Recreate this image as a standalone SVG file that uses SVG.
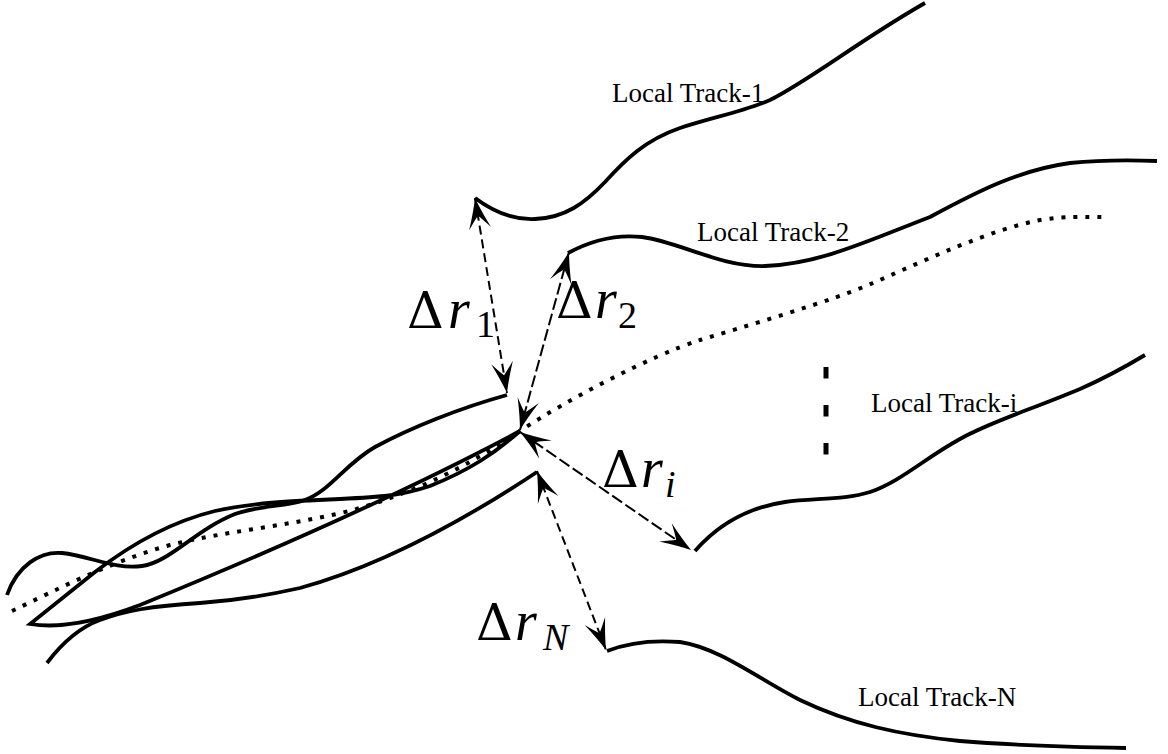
<svg xmlns="http://www.w3.org/2000/svg" width="1168" height="754" viewBox="0 0 1168 754">
  <style>
    .trk { fill: none; stroke: #000; stroke-width: 3.8; stroke-linecap: butt; stroke-linejoin: miter; }
    .glob { fill: none; stroke: #000; stroke-width: 4; stroke-dasharray: 4 8; }
    .dist { fill: none; stroke: #000; stroke-width: 2; marker-start: url(#stealth); marker-end: url(#stealth); }
    .d1 { stroke-dasharray: 9 5; }
    .d2 { stroke-dasharray: 12 4; }
    .lbl { font-family: "Liberation Serif", "Times New Roman", serif; font-size: 27px; fill: #000; }
    .math { font-family: "Liberation Serif", "Times New Roman", serif; font-size: 56px; fill: #000; }
    .delta { font-family: "DejaVu Serif", "Liberation Serif", serif; font-size: 51px; }
    .it { font-style: italic; }
    .sub { font-size: 38px; }
  </style>
  <defs>
    <marker id="stealth" markerUnits="userSpaceOnUse" viewBox="-33 -13 35 26" refX="0" refY="0" markerWidth="35" markerHeight="26" orient="auto-start-reverse">
      <path d="M0,0 Q-14,-4 -31,-11 Q-21,-3 -18,0 Q-21,3 -31,11 Q-14,4 0,0 Z" fill="#000" stroke="none"/>
    </marker>
  </defs>

  <!-- trajectories that merge into the current position -->
  <g id="merged-tracks">
    <path class="trk" d="M7,595 C17,566 40,551 62,553 C90,556 115,570 142,566 C170,562 195,530 235,514 C260,505 285,507 305,500 C330,491 345,464 375,447 C410,428 460,408 507,395"/>
    <path class="trk" d="M520,431 C495,453 470,470 430,486 C400,496 380,497 340,499 C290,501 250,503 215,511 C170,522 130,545 95,572 L30,624 C60,629 95,622 140,605 C250,560 400,495 520,431"/>
    <path class="trk" d="M47,663 C62,643 78,628 100,620 C125,611 150,606 200,603 C230,601 260,597 300,588 C380,566 460,523 537,472"/>
  </g>

  <!-- global track (dotted) -->
  <g id="global-track">
    <path class="glob" d="M12,611 C60,588 110,562 170,545 C230,530 300,525 360,508 C420,490 470,465 520,431 C565,401 650,356 700,340 C740,328 835,300 873,283 C930,258 990,230 1040,220 C1065,216 1085,217 1103,217"/>
  </g>

  <g id="track-1">
    <path class="trk" d="M475,198 C495,213 515,220 535,219 C565,218 585,203 605,182 C625,160 645,140 680,128 C710,118 745,111 770,100 C810,80 860,40 925,3"/>
    <text class="lbl" x="612" y="102">Local Track-1</text>
  </g>

  <g id="track-2">
    <path class="trk" d="M568,253 C592,240 615,234 642,237 C680,242 720,267 765,266 C820,264 870,240 930,217 C980,190 1020,170 1070,163 C1100,160 1130,160 1157,161"/>
    <text class="lbl" x="697" y="241">Local Track-2</text>
  </g>

  <g id="track-i">
    <path class="trk" d="M695,551 C715,528 745,508 785,502 C815,498 845,500 870,492 C900,482 925,458 960,439 C990,422 1030,410 1080,389 C1105,378 1125,367 1145,355"/>
    <text class="lbl" x="871" y="412">Local Track-i</text>
  </g>

  <g id="track-n">
    <path class="trk" d="M607,651 C630,642 655,640 680,642 C720,648 760,680 800,700 C850,724 900,735 960,741 C1020,746 1070,747 1126,748"/>
    <text class="lbl" x="858" y="706">Local Track-N</text>
  </g>

  <!-- vertical ellipsis between track 2 and track i -->
  <g id="ellipsis">
    <path d="M826,367 V455" fill="none" stroke="#000" stroke-width="5" stroke-dasharray="11.5 26.5"/>
  </g>

  <!-- distance connectors -->
  <g id="connectors">
    <path class="dist d1" d="M475,198 L507,393"/>
    <path class="dist d2" d="M569,252 L520,430"/>
    <path class="dist d2" d="M520,432 L691,550"/>
    <path class="dist d1" d="M537,471 L606,650"/>
  </g>

  <!-- distance labels -->
  <g id="labels">
    <text class="math" x="407" y="328"><tspan class="delta">Δ</tspan><tspan class="it" x="448">r</tspan><tspan class="sub" x="476" y="337">1</tspan></text>
    <text class="math" x="556" y="318"><tspan class="delta">Δ</tspan><tspan class="it" x="595">r</tspan><tspan class="sub" x="618" y="328">2</tspan></text>
    <text class="math" x="602" y="487"><tspan class="delta">Δ</tspan><tspan class="it" x="641">r</tspan><tspan class="sub it" x="665" y="497">i</tspan></text>
    <text class="math" x="476" y="640"><tspan class="delta">Δ</tspan><tspan class="it" x="515">r</tspan><tspan class="sub it" x="543" y="650">N</tspan></text>
  </g>
</svg>
